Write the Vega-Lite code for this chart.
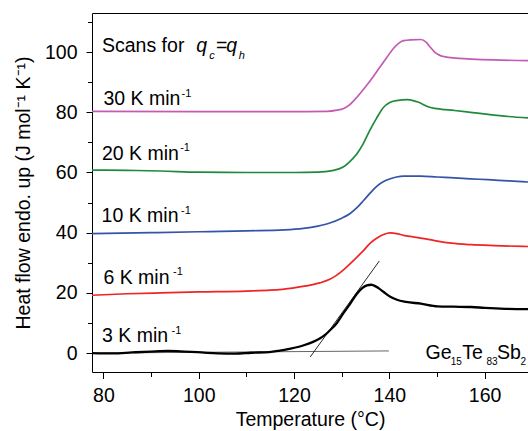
{
  "$schema": "https://vega.github.io/schema/vega-lite/v6.json",
  "width": 436,
  "height": 359,
  "autosize": {"type": "none"},
  "padding": {"left": 92, "top": 13, "right": 0, "bottom": 59},
  "background": "white",
  "config": {
    "view": {"stroke": null},
    "font": "Liberation Sans",
    "axis": {
      "grid": false,
      "domainColor": "black",
      "domainWidth": 1,
      "tickColor": "black",
      "tickWidth": 1,
      "labelColor": "black",
      "titleColor": "black",
      "labelFont": "Liberation Sans",
      "titleFont": "Liberation Sans",
      "labelFontSize": 19.5,
      "titleFontSize": 19.5,
      "titleFontWeight": "normal",
      "labelOverlap": false,
      "labelFlush": false
    }
  },
  "datasets": {
    "curves": [
      {"T": 77.6, "H": 80.3, "series": "30"},
      {"T": 100, "H": 80.2, "series": "30"},
      {"T": 120, "H": 80.2, "series": "30"},
      {"T": 127, "H": 80.3, "series": "30"},
      {"T": 129, "H": 80.7, "series": "30"},
      {"T": 130.3, "H": 81.2, "series": "30"},
      {"T": 131.5, "H": 82.3, "series": "30"},
      {"T": 133.2, "H": 85.0, "series": "30"},
      {"T": 135, "H": 88.5, "series": "30"},
      {"T": 136.5, "H": 91.6, "series": "30"},
      {"T": 138, "H": 95.0, "series": "30"},
      {"T": 139.5, "H": 98.3, "series": "30"},
      {"T": 140.9, "H": 101.3, "series": "30"},
      {"T": 142, "H": 103.0, "series": "30"},
      {"T": 143, "H": 103.8, "series": "30"},
      {"T": 144.5, "H": 104.1, "series": "30"},
      {"T": 146.6, "H": 104.2, "series": "30"},
      {"T": 147.7, "H": 103.3, "series": "30"},
      {"T": 148.5, "H": 101.8, "series": "30"},
      {"T": 149.4, "H": 100.2, "series": "30"},
      {"T": 150.5, "H": 99.0, "series": "30"},
      {"T": 151.5, "H": 98.5, "series": "30"},
      {"T": 154, "H": 98.0, "series": "30"},
      {"T": 157.2, "H": 97.7, "series": "30"},
      {"T": 162, "H": 97.4, "series": "30"},
      {"T": 169.5, "H": 97.2, "series": "30"},

      {"T": 77.6, "H": 60.8, "series": "20"},
      {"T": 85, "H": 60.7, "series": "20"},
      {"T": 92, "H": 60.5, "series": "20"},
      {"T": 100, "H": 60.1, "series": "20"},
      {"T": 110, "H": 60.0, "series": "20"},
      {"T": 120, "H": 60.0, "series": "20"},
      {"T": 125, "H": 60.1, "series": "20"},
      {"T": 128, "H": 60.6, "series": "20"},
      {"T": 130.3, "H": 61.8, "series": "20"},
      {"T": 131.5, "H": 63.3, "series": "20"},
      {"T": 133.2, "H": 66.2, "series": "20"},
      {"T": 134.5, "H": 69.5, "series": "20"},
      {"T": 135.9, "H": 74.0, "series": "20"},
      {"T": 137.3, "H": 78.0, "series": "20"},
      {"T": 138.8, "H": 81.7, "series": "20"},
      {"T": 140, "H": 83.2, "series": "20"},
      {"T": 141.5, "H": 83.9, "series": "20"},
      {"T": 143.8, "H": 84.2, "series": "20"},
      {"T": 145, "H": 83.9, "series": "20"},
      {"T": 146, "H": 83.4, "series": "20"},
      {"T": 147, "H": 82.7, "series": "20"},
      {"T": 148, "H": 81.9, "series": "20"},
      {"T": 150, "H": 81.2, "series": "20"},
      {"T": 153.7, "H": 80.6, "series": "20"},
      {"T": 157, "H": 80.0, "series": "20"},
      {"T": 160.7, "H": 79.3, "series": "20"},
      {"T": 165, "H": 78.6, "series": "20"},
      {"T": 169.5, "H": 78.1, "series": "20"},

      {"T": 77.6, "H": 39.7, "series": "10"},
      {"T": 90, "H": 40.0, "series": "10"},
      {"T": 100, "H": 40.3, "series": "10"},
      {"T": 110, "H": 40.6, "series": "10"},
      {"T": 118, "H": 40.9, "series": "10"},
      {"T": 122, "H": 41.4, "series": "10"},
      {"T": 125, "H": 42.2, "series": "10"},
      {"T": 127.5, "H": 43.2, "series": "10"},
      {"T": 130, "H": 44.8, "series": "10"},
      {"T": 131.7, "H": 46.3, "series": "10"},
      {"T": 133.2, "H": 48.3, "series": "10"},
      {"T": 134.6, "H": 50.7, "series": "10"},
      {"T": 136, "H": 53.2, "series": "10"},
      {"T": 137.4, "H": 55.5, "series": "10"},
      {"T": 138.8, "H": 57.0, "series": "10"},
      {"T": 140.2, "H": 57.9, "series": "10"},
      {"T": 141.5, "H": 58.5, "series": "10"},
      {"T": 143, "H": 58.8, "series": "10"},
      {"T": 146.6, "H": 58.8, "series": "10"},
      {"T": 150, "H": 58.5, "series": "10"},
      {"T": 153.7, "H": 58.2, "series": "10"},
      {"T": 157, "H": 57.9, "series": "10"},
      {"T": 160.7, "H": 57.6, "series": "10"},
      {"T": 165, "H": 57.2, "series": "10"},
      {"T": 169.5, "H": 56.8, "series": "10"},

      {"T": 77.6, "H": 19.2, "series": "6"},
      {"T": 85, "H": 19.7, "series": "6"},
      {"T": 92, "H": 20.0, "series": "6"},
      {"T": 100, "H": 20.3, "series": "6"},
      {"T": 110, "H": 20.6, "series": "6"},
      {"T": 115, "H": 20.9, "series": "6"},
      {"T": 119.7, "H": 21.6, "series": "6"},
      {"T": 122.5, "H": 22.3, "series": "6"},
      {"T": 125.4, "H": 23.3, "series": "6"},
      {"T": 127.5, "H": 24.5, "series": "6"},
      {"T": 128.9, "H": 25.8, "series": "6"},
      {"T": 130.5, "H": 27.8, "series": "6"},
      {"T": 132.5, "H": 30.8, "series": "6"},
      {"T": 134.3, "H": 33.6, "series": "6"},
      {"T": 136, "H": 36.5, "series": "6"},
      {"T": 137.5, "H": 38.3, "series": "6"},
      {"T": 138.8, "H": 39.4, "series": "6"},
      {"T": 140.2, "H": 39.9, "series": "6"},
      {"T": 141.5, "H": 39.7, "series": "6"},
      {"T": 143, "H": 39.1, "series": "6"},
      {"T": 145, "H": 38.6, "series": "6"},
      {"T": 146.6, "H": 38.2, "series": "6"},
      {"T": 148.5, "H": 37.7, "series": "6"},
      {"T": 150.1, "H": 37.2, "series": "6"},
      {"T": 153, "H": 36.5, "series": "6"},
      {"T": 157.2, "H": 36.0, "series": "6"},
      {"T": 162, "H": 35.7, "series": "6"},
      {"T": 169.5, "H": 35.4, "series": "6"},

      {"T": 77.6, "H": 0.0, "series": "3"},
      {"T": 82, "H": -0.1, "series": "3"},
      {"T": 86, "H": 0.2, "series": "3"},
      {"T": 90, "H": 0.5, "series": "3"},
      {"T": 93.6, "H": 0.7, "series": "3"},
      {"T": 97, "H": 0.5, "series": "3"},
      {"T": 100.6, "H": 0.2, "series": "3"},
      {"T": 104, "H": -0.1, "series": "3"},
      {"T": 107.7, "H": -0.2, "series": "3"},
      {"T": 111, "H": 0.1, "series": "3"},
      {"T": 114.8, "H": 0.3, "series": "3"},
      {"T": 117, "H": 0.8, "series": "3"},
      {"T": 119, "H": 1.4, "series": "3"},
      {"T": 121.9, "H": 2.5, "series": "3"},
      {"T": 124, "H": 3.7, "series": "3"},
      {"T": 125.4, "H": 4.8, "series": "3"},
      {"T": 126.5, "H": 6.0, "series": "3"},
      {"T": 127.5, "H": 7.5, "series": "3"},
      {"T": 129, "H": 10.0, "series": "3"},
      {"T": 130.3, "H": 13.1, "series": "3"},
      {"T": 131.7, "H": 16.2, "series": "3"},
      {"T": 133.2, "H": 19.7, "series": "3"},
      {"T": 134.3, "H": 21.6, "series": "3"},
      {"T": 135.3, "H": 22.5, "series": "3"},
      {"T": 136.2, "H": 22.7, "series": "3"},
      {"T": 136.7, "H": 22.5, "series": "3"},
      {"T": 137.8, "H": 21.5, "series": "3"},
      {"T": 138.8, "H": 20.3, "series": "3"},
      {"T": 140.2, "H": 18.7, "series": "3"},
      {"T": 141.6, "H": 17.7, "series": "3"},
      {"T": 143.5, "H": 17.0, "series": "3"},
      {"T": 146.6, "H": 16.4, "series": "3"},
      {"T": 150.1, "H": 15.5, "series": "3"},
      {"T": 153.5, "H": 15.4, "series": "3"},
      {"T": 157.2, "H": 15.3, "series": "3"},
      {"T": 160, "H": 15.0, "series": "3"},
      {"T": 164.3, "H": 14.7, "series": "3"},
      {"T": 169.5, "H": 14.6, "series": "3"}
    ],
    "guides": [
      {"T": 78.4, "H": 0.0, "g": "base"},
      {"T": 139.9, "H": 0.7, "g": "base"},
      {"T": 123.4, "H": -1.3, "g": "tangent"},
      {"T": 137.9, "H": 30.6, "g": "tangent"}
    ],
    "labels": [
      {"T": 79.7, "H": 100.0, "text": "Scans for", "style": "main"},
      {"T": 99.5, "H": 100.0, "text": "q", "style": "ital"},
      {"T": 102.2, "H": 100.0, "text": "c", "style": "italsub"},
      {"T": 103.6, "H": 100.0, "text": "=", "style": "main"},
      {"T": 105.8, "H": 100.0, "text": "q", "style": "ital"},
      {"T": 108.4, "H": 100.0, "text": "h", "style": "italsub"},
      {"T": 80.0, "H": 82.3, "text": "30 K min", "style": "main"},
      {"T": 96.4, "H": 82.3, "text": "-1", "style": "sup"},
      {"T": 79.7, "H": 64.25, "text": "20 K min", "style": "main"},
      {"T": 96.1, "H": 64.25, "text": "-1", "style": "sup"},
      {"T": 79.6, "H": 43.5, "text": "10 K min", "style": "main"},
      {"T": 96.3, "H": 43.5, "text": "-1", "style": "sup"},
      {"T": 80.0, "H": 23.05, "text": "6 K min", "style": "main"},
      {"T": 94.6, "H": 23.05, "text": "-1", "style": "sup"},
      {"T": 79.7, "H": 3.65, "text": "3 K min", "style": "main"},
      {"T": 94.3, "H": 3.65, "text": "-1", "style": "sup"},
      {"T": 147.6, "H": -2.1, "text": "Ge", "style": "main"},
      {"T": 152.9, "H": -2.1, "text": "15", "style": "sub"},
      {"T": 155.3, "H": -2.1, "text": "Te", "style": "main"},
      {"T": 160.4, "H": -2.1, "text": "83", "style": "sub"},
      {"T": 162.6, "H": -2.1, "text": "Sb", "style": "main"},
      {"T": 167.5, "H": -2.1, "text": "2", "style": "sub"}
    ]
  },
  "encoding": {
    "y": {"field": "H", "type": "quantitative", "scale": {"domain": [-6.3, 113.0], "nice": false, "zero": false},
      "axis": {
        "values": [0, 10, 20, 30, 40, 50, 60, 70, 80, 90, 100, 110],
        "labelExpr": "datum.value % 20 === 0 ? datum.label : ''",
        "tickSize": {"condition": {"test": "datum.value % 20 === 0", "value": 6}, "value": 4.5},
        "labelPadding": 9,
        "title": "Heat flow endo. up (J mol⁻¹ K⁻¹)",
        "titlePadding": 11
      }}
  },
  "resolve": {"axis": {"x": "independent"}},
  "layer": [
    {
      "data": {"name": "guides"},
      "transform": [{"filter": "datum.g === 'base'"}],
      "mark": {"type": "line", "clip": true, "strokeWidth": 0.9, "color": "#555555"},
      "encoding": {
        "x": {"field": "T", "type": "quantitative", "scale": {"domain": [77.6, 169.1], "nice": false, "zero": false},
          "axis": {"orient": "top", "labels": false, "ticks": false, "domain": true, "title": null, "grid": false}}
      }
    },
    {
      "data": {"name": "guides"},
      "transform": [{"filter": "datum.g === 'tangent'"}],
      "mark": {"type": "line", "clip": true, "strokeWidth": 0.9, "color": "#111111"},
      "encoding": {
        "x": {"field": "T", "type": "quantitative", "axis": null}
      }
    },
    {
      "data": {"name": "curves"},
      "transform": [{"filter": "datum.series !== '3'"}],
      "mark": {"type": "line", "clip": true, "strokeWidth": 1.7, "interpolate": "monotone"},
      "encoding": {
        "x": {"field": "T", "type": "quantitative",
          "axis": {
            "orient": "bottom",
            "values": [80, 90, 100, 110, 120, 130, 140, 150, 160],
            "labelExpr": "datum.value % 20 === 0 ? datum.label : ''",
            "tickSize": {"condition": {"test": "datum.value % 20 === 0", "value": 6.5}, "value": 4.5},
            "labelPadding": 8,
            "title": "Temperature (°C)",
            "titlePadding": 5
          }},
        "color": {"field": "series", "type": "nominal",
          "scale": {"domain": ["30", "20", "10", "6"], "range": ["#c25bb4", "#1e8b3c", "#3553a8", "#ef2424"]}, "legend": null}
      }
    },
    {
      "data": {"name": "curves"},
      "transform": [{"filter": "datum.series === '3'"}],
      "mark": {"type": "line", "clip": true, "strokeWidth": 2.3, "color": "black", "interpolate": "monotone"},
      "encoding": {
        "x": {"field": "T", "type": "quantitative", "axis": null}
      }
    },
    {
      "data": {"name": "labels"},
      "transform": [{"filter": "datum.style === 'main'"}],
      "mark": {"type": "text", "align": "left", "baseline": "alphabetic", "fontSize": 19.5, "font": "Liberation Sans", "color": "black"},
      "encoding": {
        "x": {"field": "T", "type": "quantitative", "axis": null},
        "text": {"field": "text"}
      }
    },
    {
      "data": {"name": "labels"},
      "transform": [{"filter": "datum.style === 'ital'"}],
      "mark": {"type": "text", "align": "left", "baseline": "alphabetic", "fontSize": 19.5, "fontStyle": "italic", "font": "Liberation Sans", "color": "black"},
      "encoding": {
        "x": {"field": "T", "type": "quantitative", "axis": null},
        "text": {"field": "text"}
      }
    },
    {
      "data": {"name": "labels"},
      "transform": [{"filter": "datum.style === 'italsub'"}],
      "mark": {"type": "text", "align": "left", "baseline": "alphabetic", "fontSize": 11, "fontStyle": "italic", "dy": 6.5, "font": "Liberation Sans", "color": "black"},
      "encoding": {
        "x": {"field": "T", "type": "quantitative", "axis": null},
        "text": {"field": "text"}
      }
    },
    {
      "data": {"name": "labels"},
      "transform": [{"filter": "datum.style === 'sub'"}],
      "mark": {"type": "text", "align": "left", "baseline": "alphabetic", "fontSize": 10, "dy": 6, "font": "Liberation Sans", "color": "black"},
      "encoding": {
        "x": {"field": "T", "type": "quantitative", "axis": null},
        "text": {"field": "text"}
      }
    },
    {
      "data": {"name": "labels"},
      "transform": [{"filter": "datum.style === 'sup'"}],
      "mark": {"type": "text", "align": "left", "baseline": "alphabetic", "fontSize": 11, "dy": -8.3, "font": "Liberation Sans", "color": "black"},
      "encoding": {
        "x": {"field": "T", "type": "quantitative", "axis": null},
        "text": {"field": "text"}
      }
    }
  ]
}
